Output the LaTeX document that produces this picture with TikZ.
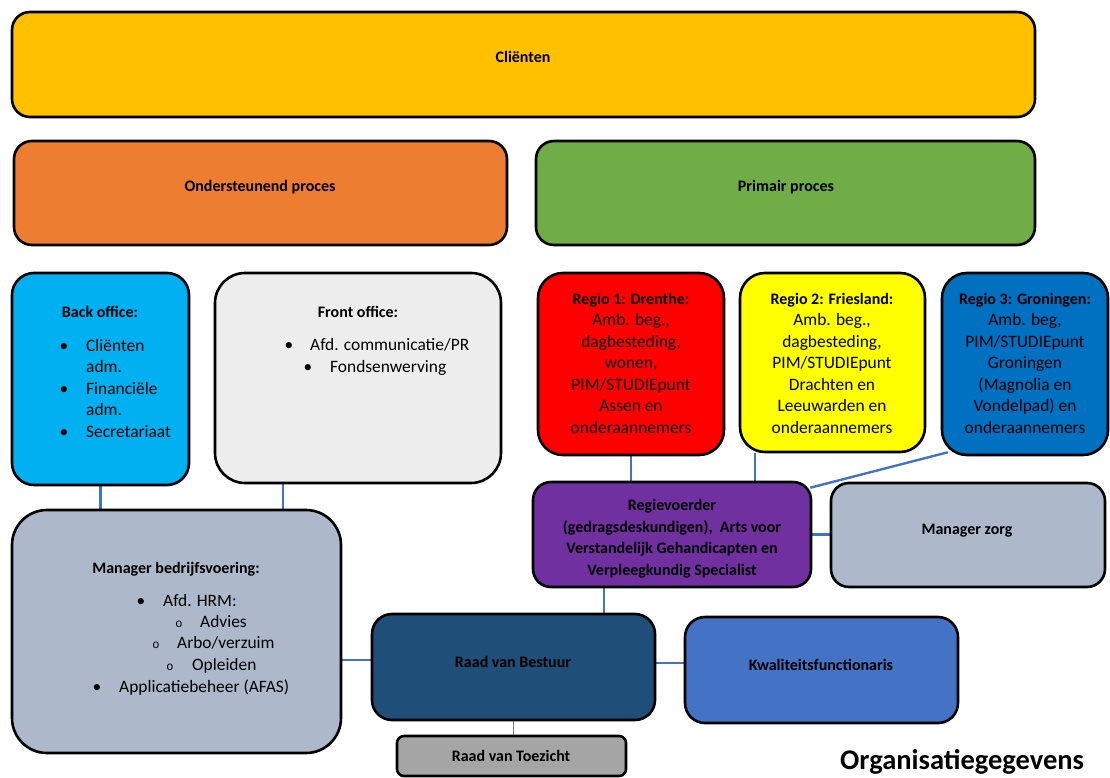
\documentclass[tikz,border=0pt]{standalone}
\usepackage{fontspec}
\setmainfont{Carlito}
\newfontfamily\circfont{Liberation Mono}
\usetikzlibrary{calc}
\definecolor{cGold}{HTML}{FFC000}
\definecolor{cOrange}{HTML}{ED7D31}
\definecolor{cGreen}{HTML}{70AD47}
\definecolor{cSky}{HTML}{00B0F0}
\definecolor{cLight}{HTML}{EDEDED}
\definecolor{cRed}{HTML}{FF0000}
\definecolor{cYellow}{HTML}{FFFF00}
\definecolor{cBlue}{HTML}{0070C0}
\definecolor{cPurple}{HTML}{7030A0}
\definecolor{cSlate}{HTML}{ADB9CA}
\definecolor{cNavy}{HTML}{1F4E79}
\definecolor{cMid}{HTML}{4472C4}
\definecolor{cGray}{HTML}{A5A5A5}
\definecolor{cLink}{HTML}{4472C4}
\pgfdeclarelayer{bg}
\pgfsetlayers{bg,main}
\tikzset{
  box/.style={draw=black, line width=2.6pt, inner sep=0pt},
  lbl/.style={font=\fontsize{16}{21}\selectfont\bfseries, anchor=base, inner sep=0pt, align=center},
  txt/.style={font=\fontsize{17.4}{21}\selectfont, anchor=base west, inner sep=0pt},
  ctxt/.style={font=\fontsize{17.4}{21}\selectfont, anchor=base, inner sep=0pt},
  bul/.style={font=\fontsize{17.4}{21}\selectfont, anchor=base, inner sep=0pt},
  circ/.style={font=\circfont\fontsize{12}{12}\selectfont, anchor=base, inner sep=0pt},
  conn/.style={draw=cLink, line width=2.4pt},
  thin/.style={draw=gray, line width=0.9pt},
}
\begin{document}
\begin{tikzpicture}[x=1pt,y=-1pt]
\useasboundingbox (0,0) rectangle (1110,778);
% boxes
\node[box, fill=cGold, rounded corners=18pt, minimum width=1023pt, minimum height=105pt] (cl) at (523.5,64.5) {};
\node[box, fill=cOrange, rounded corners=18pt, minimum width=493pt, minimum height=104pt] (op) at (260.5,193) {};
\node[box, fill=cGreen, rounded corners=18pt, minimum width=499pt, minimum height=104pt] (pp) at (785.5,193) {};
\node[box, fill=cSky, rounded corners=22pt, minimum width=177pt, minimum height=212pt] (bo) at (100.5,379) {};
\node[box, fill=cLight, rounded corners=30pt, minimum width=286pt, minimum height=210pt] (fo) at (358,378) {};
\node[box, fill=cRed, rounded corners=25pt, minimum width=186pt, minimum height=182pt] (r1) at (631,364) {};
\node[box, fill=cYellow, rounded corners=25pt, minimum width=185pt, minimum height=179pt] (r2) at (832.5,362.5) {};
\node[box, fill=cBlue, rounded corners=25pt, minimum width=166pt, minimum height=182pt] (r3) at (1025,364) {};
\node[box, fill=cPurple, rounded corners=18pt, minimum width=278pt, minimum height=105pt] (rv) at (672,534.5) {};
\node[box, fill=cSlate, rounded corners=18pt, minimum width=274pt, minimum height=104pt] (mz) at (968,535) {};
\node[box, fill=cSlate, rounded corners=35pt, minimum width=329pt, minimum height=243pt] (mb) at (176.5,631.5) {};
\node[box, fill=cNavy, rounded corners=20pt, minimum width=283pt, minimum height=106pt] (rb) at (513.5,667) {};
\node[box, fill=cMid, rounded corners=20pt, minimum width=273pt, minimum height=106pt] (kw) at (821.5,670) {};
\node[box, fill=cGray, rounded corners=7pt, minimum width=229pt, minimum height=40pt] (rt) at (511.5,756) {};
% connectors
\coordinate (foC) at ([xshift=-75pt]fo.south);
\coordinate (r2C) at ([xshift=-77.5pt]r2.south);
\coordinate (r3C) at ([xshift=7pt,yshift=4pt]r3.south west);
\coordinate (rvNE) at ([xshift=-2pt,yshift=-7pt]rv.north east);
\coordinate (rvS) at ([xshift=-68pt]rv.south);
\coordinate (rbW) at ([yshift=7pt]rb.west);
\coordinate (rbE) at ([yshift=4pt]rb.east);
\begin{pgfonlayer}{bg}
\draw[conn] (bo.south) -- (bo.south |- mb.north);
\draw[conn] (foC) -- (foC |- mb.north);
\draw[conn] (r1.south) -- (r1.south |- rv.north);
\draw[conn] (r2C) -- (r2C |- rv.north);
\draw[conn] (r3C) -- (rvNE);
\draw[conn] (rv.east) -- (rv.east -| mz.west);
\draw[conn] (rvS) -- (rvS |- rb.north);
\draw[conn] (rbW) -- (rbW -| mb.east);
\draw[conn] (rbE) -- (rbE -| kw.west);
\draw[thin] (rb.south) -- (rb.south |- rt.north);
\end{pgfonlayer}
% simple labels
\node[lbl] (clT) at (523,63) {Cliënten};
\node[lbl] (opT) at (260,192) {Ondersteunend proces};
\node[lbl] (ppT) at (786,192) {Primair proces};
\node[lbl] (mzT) at (967,534) {Manager zorg};
\node[lbl] (rbT) at (513,667) {Raad van Bestuur};
\node[lbl] (kwT) at (821,670) {Kwaliteitsfunctionaris};
\node[lbl] (rtT) at (511,761) {Raad van Toezicht};
% back office
\node[lbl] (boT) at (100,317) {Back office:};
\node[bul] (bob1) at (64,351) {•};
\node[txt] (bo1) at (86,351) {Cliënten};
\node[txt] (bo2) at (86,372.5) {adm.};
\node[bul] (bob2) at (64,394) {•};
\node[txt] (bo3) at (86,394) {Financiële};
\node[txt] (bo4) at (86,415.5) {adm.};
\node[bul] (bob3) at (64,437) {•};
\node[txt] (bo5) at (86,437) {Secretariaat};
% front office
\node[lbl] (foT) at (358,317) {Front office:};
\node[bul] (fob1) at (289,350) {•};
\node[txt] (fo1) at (310,350) {Afd. communicatie/PR};
\node[bul] (fob2) at (308,372) {•};
\node[txt] (fo2) at (330,372) {Fondsenwerving};
% regio 1
\node[lbl] (r1T) at (631,304) {Regio 1: Drenthe:};
\node[ctxt] (r1a) at (631,325.5) {Amb. beg.,};
\node[ctxt] (r1b) at (631,347) {dagbesteding,};
\node[ctxt] (r1c) at (631,368.5) {wonen,};
\node[ctxt] (r1d) at (631,390) {PIM/STUDIEpunt};
\node[ctxt] (r1e) at (631,411.5) {Assen en};
\node[ctxt] (r1f) at (631,433) {onderaannemers};
% regio 2
\node[lbl] (r2T) at (832,304) {Regio 2: Friesland:};
\node[ctxt] (r2a) at (832,325.5) {Amb. beg.,};
\node[ctxt] (r2b) at (832,347) {dagbesteding,};
\node[ctxt] (r2c) at (832,368.5) {PIM/STUDIEpunt};
\node[ctxt] (r2d) at (832,390) {Drachten en};
\node[ctxt] (r2e) at (832,411.5) {Leeuwarden en};
\node[ctxt] (r2f) at (832,433) {onderaannemers};
% regio 3
\node[lbl] (r3T) at (1025,304) {Regio 3: Groningen:};
\node[ctxt] (r3a) at (1025,325.5) {Amb. beg,};
\node[ctxt] (r3b) at (1025,347) {PIM/STUDIEpunt};
\node[ctxt] (r3c) at (1025,368.5) {Groningen};
\node[ctxt] (r3d) at (1025,390) {(Magnolia en};
\node[ctxt] (r3e) at (1025,411.5) {Vondelpad) en};
\node[ctxt] (r3f) at (1025,433) {onderaannemers};
% regievoerder
\node[lbl] (rvA) at (672,510) {Regievoerder};
\node[lbl] (rvB) at (672,532) {(gedragsdeskundigen),\ \ Arts voor};
\node[lbl] (rvC) at (672,553.5) {Verstandelijk Gehandicapten en};
\node[lbl] (rvD) at (672,575) {Verpleegkundig Specialist};
% manager bedrijfsvoering
\node[lbl] (mbT) at (176,573) {Manager bedrijfsvoering:};
\node[bul] (mbb1) at (141,606) {•};
\node[txt] (mb1) at (163,606) {Afd. HRM:};
\node[circ] (mbc1) at (179,627) {o};
\node[txt] (mb2) at (200,627) {Advies};
\node[circ] (mbc2) at (156,648) {o};
\node[txt] (mb3) at (177,648) {Arbo/verzuim};
\node[circ] (mbc3) at (170,670) {o};
\node[txt] (mb4) at (192,670) {Opleiden};
\node[bul] (mbb2) at (97,692) {•};
\node[txt] (mb5) at (119,692) {Applicatiebeheer (AFAS)};
% footer
\node[font=\fontsize{28.5}{30}\selectfont\bfseries, anchor=base west, inner sep=0pt] (org) at (840,769) {Organisatiegegevens};
\end{tikzpicture}
\end{document}
